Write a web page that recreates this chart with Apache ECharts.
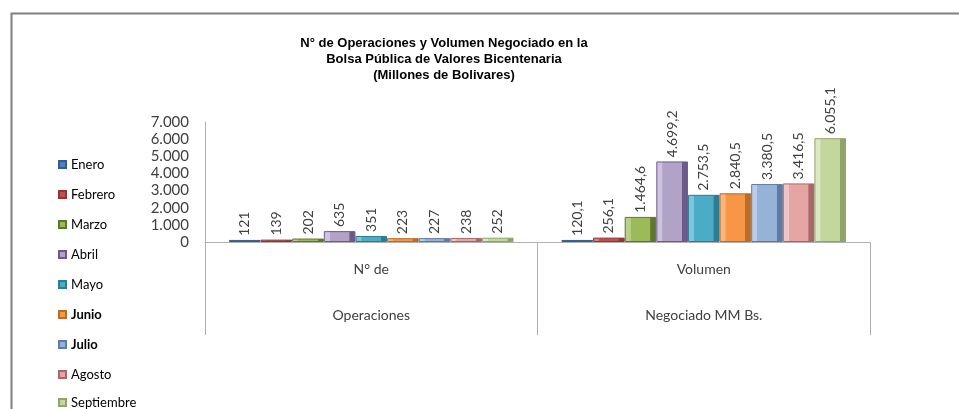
<!DOCTYPE html>
<html>
<head>
<meta charset="utf-8">
<script src="https://cdn.jsdelivr.net/npm/echarts@6/dist/echarts.min.js"></script>
<style>html,body{margin:0;padding:0;background:#fff;}#c{width:959px;height:409px;}</style>
</head>
<body>
<div id="c"></div>
<script>
const categories = ['N° de\nOperaciones', 'Volumen\nNegociado MM Bs.'];
const months = ['Enero','Febrero','Marzo','Abril','Mayo','Junio','Julio','Agosto','Septiembre'];
const operaciones = [121, 139, 202, 635, 351, 223, 227, 238, 252];
const volumen = [120.1, 256.1, 1464.6, 4699.2, 2753.5, 2840.5, 3380.5, 3416.5, 6055.1];
const yTicks = [0, 1000, 2000, 3000, 4000, 5000, 6000, 7000];

const faces = ['#4F81BD','#C0504D','#9BBB59','#B3A2C7','#4BACC6','#F79646','#95B3D7','#E6A5A5','#C3D69B'];
const darks = ['#385D8A','#8C3836','#5F7530','#6E5A8A','#2E7D92','#B66D2E','#5F7BA3','#A86868','#8FA46A'];
const lights = ['#7DA2D1','#D67C7A','#B9D08A','#CEC2DE','#7CC6D8','#F9B57E','#B9CDE6','#F0C4C4','#DCE8C2'];

function fmt(v, dec) {
  const s = v.toFixed(dec);
  const parts = s.split('.');
  const int = parts[0].replace(/\B(?=(\d{3})+(?!\d))/g, '.');
  return parts.length > 1 ? int + ',' + parts[1] : int;
}

const chart = echarts.init(document.getElementById('c'));
const series = months.map((m, i) => ({
  name: m,
  type: 'bar',
  data: [operaciones[i], volumen[i]],
  barGap: '0%',
  barCategoryGap: '14.4%',
  itemStyle: {
    color: new echarts.graphic.LinearGradient(0, 0, 1, 0, [
      {offset: 0, color: lights[i]},
      {offset: 0.18, color: lights[i]},
      {offset: 0.2, color: faces[i]},
      {offset: 0.8, color: faces[i]},
      {offset: 0.82, color: darks[i]},
      {offset: 1, color: darks[i]}
    ]),
    borderColor: darks[i],
    borderWidth: 1
  },
  label: {
    show: true,
    position: 'top',
    rotate: 90,
    align: 'left',
    verticalAlign: 'middle',
    distance: 4,
    fontFamily: 'Lato',
    fontSize: 14,
    color: '#404040',
    formatter: p => fmt(p.value, p.dataIndex === 0 ? 0 : 1)
  }
}));

const legendBase = {
  orient: 'vertical',
  left: 58,
  padding: 0,
  itemWidth: 7,
  itemHeight: 7,
  itemGap: 17,
  icon: 'rect',
  textStyle: {fontFamily: 'Lato', fontSize: 13, color: '#000'}
};
const legendItem = m => ({name: m, textStyle: (m === 'Junio' || m === 'Julio') ? {fontWeight: 'bold'} : {}});

chart.setOption({
  animation: false,
  backgroundColor: '#fff',
  title: {
    text: 'N° de Operaciones y Volumen Negociado en la\nBolsa Pública de Valores Bicentenaria\n(Millones de Bolivares)',
    left: 444,
    top: 35,
    padding: 0,
    textAlign: 'center',
    textStyle: {fontFamily: 'Liberation Sans', fontSize: 13, fontWeight: 'bold', color: '#000', lineHeight: 16}
  },
  legend: [
    Object.assign({}, legendBase, {top: 158, data: months.slice(0, 8).map(legendItem)}),
    Object.assign({}, legendBase, {top: 396, data: months.slice(8).map(legendItem)})
  ],
  graphic: [{
    type: 'rect', left: 9, top: 11, silent: true,
    shape: {x: 0, y: 0, width: 1000, height: 500},
    style: {fill: 'none', stroke: '#7f7f7f', lineWidth: 2}
  }],
  grid: {left: 205, right: 89, top: 122, bottom: 167},
  xAxis: {
    type: 'category',
    data: categories,
    axisLine: {lineStyle: {color: '#b0b0b0'}},
    axisTick: {show: true, length: 93, lineStyle: {color: '#b0b0b0'}},
    axisLabel: {fontFamily: 'Lato', fontSize: 14, color: '#404040', lineHeight: 46, margin: 4}
  },
  yAxis: {
    type: 'value',
    min: 0, max: 7000, interval: 1000,
    axisLine: {show: true, lineStyle: {color: '#b0b0b0'}},
    axisTick: {show: false},
    splitLine: {show: false},
    axisLabel: {fontFamily: 'Lato', fontSize: 15, color: '#404040', margin: 16,
      formatter: v => yTicks.includes(v) ? fmt(v, 0) : ''}
  },
  series: series
});
</script>
</body>
</html>
